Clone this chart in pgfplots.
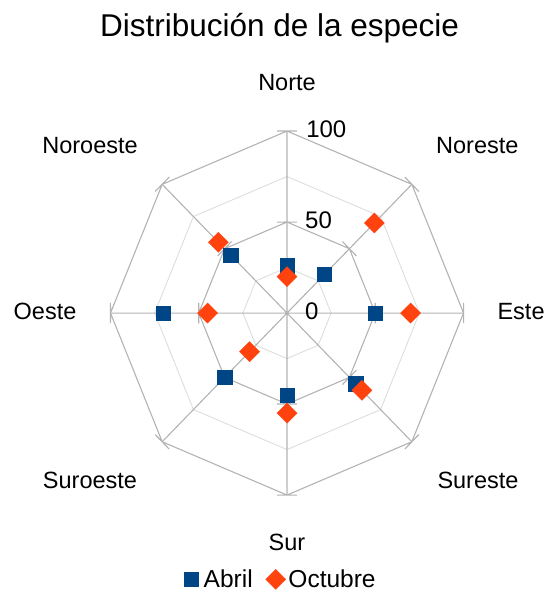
\documentclass[border=0pt]{standalone}
\usepackage{pgfplots}
\pgfplotsset{compat=1.18}
\usepackage{fontspec}
\setmainfont{Liberation Sans}

\definecolor{abril}{HTML}{004586}
\definecolor{octubre}{HTML}{FF420E}
\definecolor{gridmaj}{HTML}{B3B3B3}
\definecolor{gridmin}{HTML}{DDDDDD}

% angle (deg), value
\pgfplotstableread{
ang r
90 26
45 30
0 50
-45 55
-90 45
-135 50
180 70
135 45
}\abril
\pgfplotstableread{
ang r
90 20
45 70
0 70
-45 60
-90 55
-135 30
180 45
135 55
}\octubre

\begin{document}
\begin{tikzpicture}
\begin{axis}[
    x=1.765pt, y=1.82pt,
    xmin=-162.6, xmax=147.3,
    ymin=-153.8, ymax=172.0,
    hide axis, clip=false,
    legend style={at={(axis cs:-4,-146.3)}, anchor=center, draw=none, fill=none,
        font=\fontsize{24.5}{26}\selectfont, inner sep=0pt,
        nodes={inner xsep=1pt, inner ysep=0pt},
        /tikz/every even column/.append style={column sep=12pt}},
    legend columns=-1,
    legend image code/.code={\path (0pt,0pt) (19pt,0pt);
        \draw[mark repeat=2,mark phase=2,#1]
        plot coordinates {(0pt,0pt)(7.5pt,0pt)(19pt,0pt)};},
]
\coordinate (bl) at (axis cs:-162.6,-153.8);
\coordinate (tr) at (axis cs:147.3,172.0);

% minor rings
\addplot[data cs=polar, gridmin, line width=0.9pt, forget plot] coordinates {
(90,25)(45,25)(0,25)(-45,25)(-90,25)(-135,25)(-180,25)(-225,25)(-270,25)};
\addplot[data cs=polar, gridmin, line width=0.9pt, forget plot] coordinates {
(90,75)(45,75)(0,75)(-45,75)(-90,75)(-135,75)(-180,75)(-225,75)(-270,75)};
% spokes
\addplot[data cs=polar, gridmaj, line width=1.1pt, forget plot] coordinates {
(90,100)(0,0)(45,100)(0,0)(0,100)(0,0)(-45,100)(0,0)(-90,100)(0,0)
(-135,100)(0,0)(180,100)(0,0)(135,100)};
% major rings with ticks
\addplot[data cs=polar, gridmaj, line width=1.1pt, forget plot] coordinates {
(90,50)(96.4,50.3)(83.6,50.3)(90,50)
(45,50)(51.4,50.3)(38.6,50.3)(45,50)
(0,50)(6.4,50.3)(-6.4,50.3)(0,50)
(-45,50)(-38.6,50.3)(-51.4,50.3)(-45,50)
(-90,50)(-83.6,50.3)(-96.4,50.3)(-90,50)
(-135,50)(-128.6,50.3)(-141.4,50.3)(-135,50)
(-180,50)(-173.6,50.3)(-186.4,50.3)(-180,50)
(-225,50)(-218.6,50.3)(-231.4,50.3)(-225,50)
(-270,50)};
\addplot[data cs=polar, gridmaj, line width=1.1pt, forget plot] coordinates {
(90,100)(93.2,100.2)(86.8,100.2)(90,100)
(45,100)(48.2,100.2)(41.8,100.2)(45,100)
(0,100)(3.2,100.2)(-3.2,100.2)(0,100)
(-45,100)(-41.8,100.2)(-48.2,100.2)(-45,100)
(-90,100)(-86.8,100.2)(-93.2,100.2)(-90,100)
(-135,100)(-131.8,100.2)(-138.2,100.2)(-135,100)
(-180,100)(-176.8,100.2)(-183.2,100.2)(-180,100)
(-225,100)(-221.8,100.2)(-228.2,100.2)(-225,100)
(-270,100)};

% data
\addplot[data cs=polar, only marks, mark=square*, mark size=7.2pt,
    mark options={draw=abril, fill=abril, line width=0.4pt}] table[x=ang, y=r] {\abril};
\addlegendentry{Abril}
\addplot[data cs=polar, only marks, mark=square*, mark size=7.1pt,
    mark options={draw=octubre, fill=octubre, line width=0.4pt, rotate=45}] table[x=ang, y=r] {\octubre};
\addlegendentry{Octubre}

% value labels
\node[anchor=base west, inner sep=0pt, font=\fontsize{24}{28}\selectfont] at (axis cs:10.8,96.5) {100};
\node[anchor=base west, inner sep=0pt, font=\fontsize{24}{28}\selectfont] at (axis cs:10.2,46.5) {50};
\node[anchor=base west, inner sep=0pt, font=\fontsize{24}{28}\selectfont] at (axis cs:10.2,-3.8) {0};

% category labels
\begin{scope}[every node/.style={anchor=base, inner sep=0pt, font=\fontsize{23.5}{28}\selectfont}]
\node at (axis cs:0,122.5) {Norte};
\node at (axis cs:107.8,87.7) {Noreste};
\node at (axis cs:132.6,-3.5) {Este};
\node at (axis cs:108.2,-96.3) {Sureste};
\node at (axis cs:0,-130.2) {Sur};
\node at (axis cs:-111.6,-96.3) {Suroeste};
\node at (axis cs:-137.1,-3.5) {Oeste};
\node at (axis cs:-111.6,87.7) {Noroeste};
\end{scope}

\node[anchor=base, inner sep=0pt, font=\fontsize{31.5}{36}\selectfont] at (axis cs:-4.2,151.8) {Distribución de la especie};
\end{axis}
\pgfresetboundingbox
\path[use as bounding box] (bl) rectangle (tr);
\end{tikzpicture}
\end{document}
